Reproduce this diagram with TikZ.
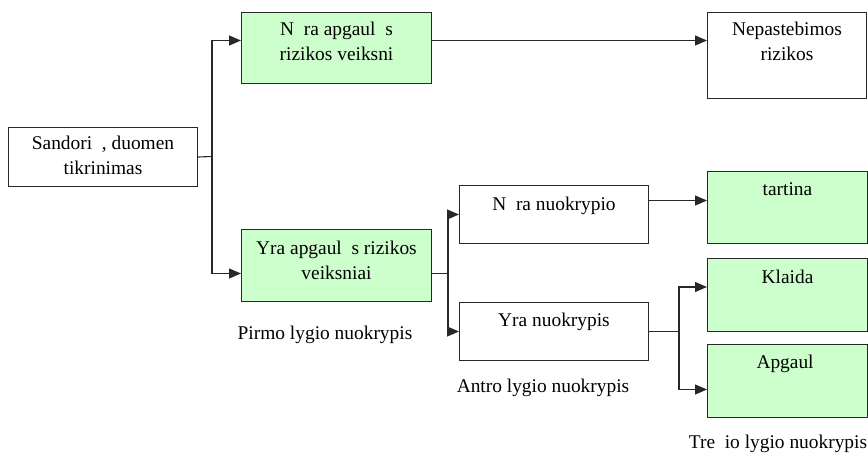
\documentclass[tikz,border=0pt]{standalone}
\usepackage{fontspec}
\setmainfont{Liberation Serif}
\usetikzlibrary{arrows.meta,calc}
\definecolor{lgreen}{RGB}{204,255,204}
\definecolor{edge}{RGB}{40,40,40}
\begin{document}
\begin{tikzpicture}[x=1pt,y=-1pt,
  box/.style={draw=edge, line width=1pt, anchor=north west, inner sep=0, fill=white},
  gbox/.style={box, fill=lgreen},
  txt/.style={font=\fontsize{19.4}{25}\selectfont, align=center, inner sep=0, anchor=north},
  lbl/.style={font=\fontsize{19.4}{25}\selectfont, inner sep=0},
  conn/.style={draw=edge, line width=1.1pt},
  arr/.style={conn, -{Triangle[length=12pt,width=10pt]}}]
\useasboundingbox (0,0) rectangle (868,461);
% boxes
\node[box,  minimum width=189, minimum height=59] (s)  at (8,127)   {};
\node[gbox, minimum width=190, minimum height=71] (b2) at (241,12)  {};
\node[box,  minimum width=159, minimum height=86] (b3) at (707,12)  {};
\node[gbox, minimum width=190, minimum height=72] (b4) at (241,229) {};
\node[box,  minimum width=189, minimum height=58] (b5) at (459,185) {};
\node[box,  minimum width=189, minimum height=58] (b6) at (459,302) {};
\node[gbox, minimum width=160, minimum height=72] (b7) at (707,171) {};
\node[gbox, minimum width=160, minimum height=73] (b8) at (707,258) {};
\node[gbox, minimum width=160, minimum height=73] (b9) at (707,344) {};
% texts
\node[txt] (ts) at ($(s.north)+(0,9)$)  {Sandori\ \ , duomen\\tikrinimas};
\node[txt] (t2) at ($(b2.north)+(0,10)$) {N\ \ ra apgaul\ \ s\\rizikos veiksni\ };
\node[txt] (t3) at ($(b3.north)+(0,10)$) {Nepastebimos\\rizikos};
\node[txt] (t4) at ($(b4.north)+(0,12)$) {Yra apgaul\ \ s rizikos\\veiksniai};
\node[txt] (t5) at ($(b5.north)+(0,12)$) {N\ \ ra nuokrypio};
\node[txt] (t6) at ($(b6.north)+(0,11)$) {Yra nuokrypis};
\node[txt] (t7) at ($(b7.north)+(0,11)$) {tartina};
\node[txt] (t8) at ($(b8.north)+(0,12)$) {Klaida};
\node[txt] (t9) at ($(b9.north)+(0,11)$) {Apgaul\ };
% level labels
\node[lbl] (l1) at (325,335) {Pirmo lygio nuokrypis};
\node[lbl] (l2) at (543,388) {Antro lygio nuokrypis};
\node[lbl] (l3) at (778,444) {Tre\ \ io lygio nuokrypis};
% connectors
\draw[conn] (s.east) -- (212,156.5) coordinate (j1);
\draw[arr] (j1) |- ($(b2.west)+(0,-7.5)$);
\draw[arr] (j1) |- ($(b4.west)+(0,8)$);
\coordinate (a2) at ($(b2.east)+(0,-7.5)$);
\draw[arr] (a2) -- (a2 -| b3.west);
\coordinate (a4) at ($(b4.east)+(0,8)$);
\draw[conn] (a4) -- ++(16,0) coordinate (j2);
\draw[arr] (j2) |- (b5.west);
\draw[arr] (j2) |- (b6.west);
\coordinate (a5) at ($(b5.east)+(0,-14)$);
\draw[arr] (a5) -- (a5 -| b7.west);
\draw[conn] (b6.east) -- ++(30,0) coordinate (j3);
\draw[arr] (j3) |- ($(b8.west)+(0,-8)$);
\draw[arr] (j3) |- ($(b9.west)+(0,8.5)$);
\end{tikzpicture}
\end{document}
